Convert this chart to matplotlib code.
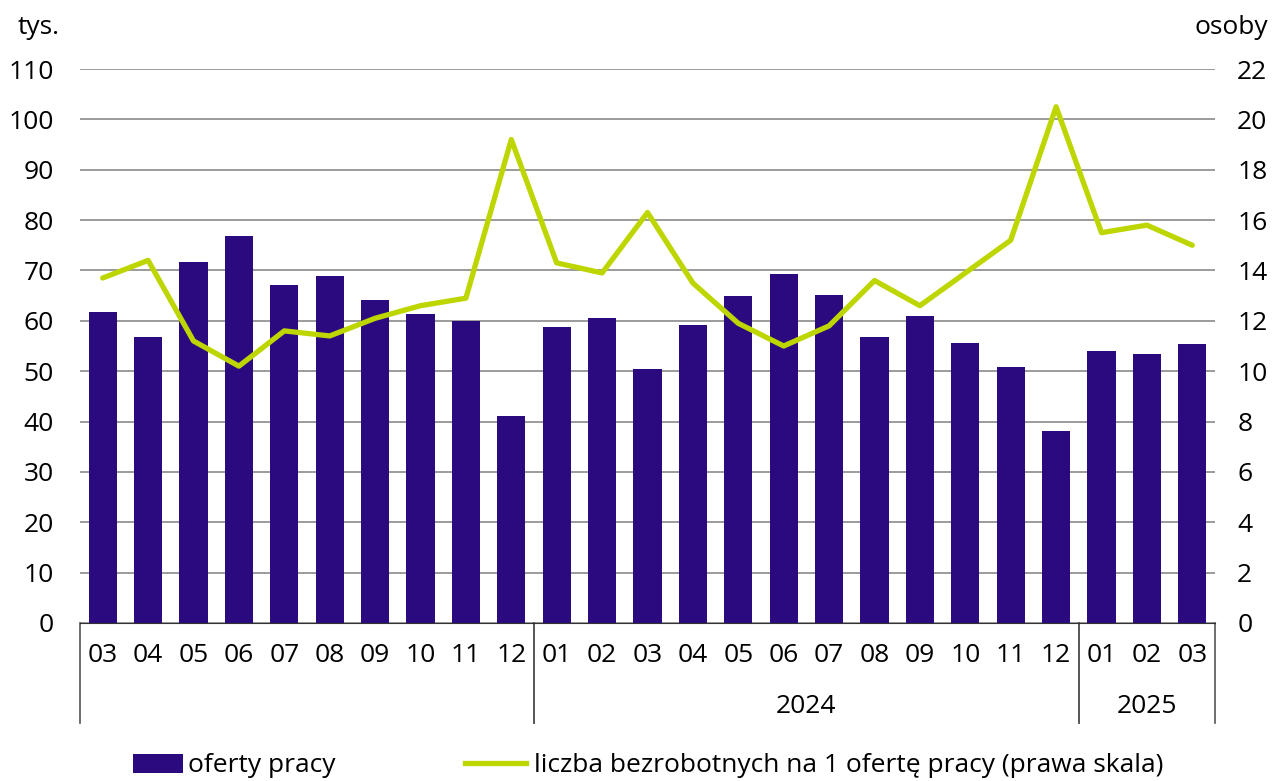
import numpy as np
import matplotlib.pyplot as plt
import matplotlib.transforms as mtransforms
from matplotlib.patches import Patch
from matplotlib.lines import Line2D

plt.rcParams['font.family'] = ['Open Sans', 'DejaVu Sans']

months = ['03', '04', '05', '06', '07', '08', '09', '10', '11', '12',
          '01', '02', '03', '04', '05', '06', '07', '08', '09', '10', '11', '12',
          '01', '02', '03']
oferty = [61.8, 56.8, 71.7, 76.8, 67.1, 68.9, 64.1, 61.4, 60.0, 41.1,
          58.8, 60.6, 50.4, 59.2, 64.9, 69.3, 65.1, 56.8, 61.0, 55.6, 50.8, 38.1,
          54.0, 53.4, 55.4]
bezrobotni = [13.7, 14.4, 11.2, 10.2, 11.6, 11.4, 12.1, 12.6, 12.9, 19.2,
              14.3, 13.9, 16.3, 13.5, 11.9, 11.0, 11.8, 13.6, 12.6, 13.9, 15.2, 20.5,
              15.5, 15.8, 15.0]
# (label, first index, last index)
years = [('', 0, 9), ('2024', 10, 21), ('2025', 22, 24)]

bar_c = '#2B0A80'
line_c = '#BED600'
fs = 19

fig = plt.figure(figsize=(12.72, 7.81), dpi=100)
ax = fig.add_axes([80/1272, 1 - 623/781, 1135/1272, 554/781])
ax2 = ax.twinx()

x = np.arange(len(months))
ax.bar(x, oferty, width=0.62, color=bar_c, zorder=2)
ax2.plot(x, bezrobotni, color=line_c, lw=3.8, solid_capstyle='round', zorder=3)

ax.set_xlim(-0.5, len(months) - 0.5)
ax.set_ylim(0, 110)
ax2.set_ylim(0, 22)
ax.set_yticks(range(0, 111, 10))
ax2.set_yticks(range(0, 23, 2))
ax.yaxis.grid(True, color='#8a8a8a', lw=1.2, zorder=0)
ax.set_axisbelow(True)

for a in (ax, ax2):
    for s in ['left', 'right', 'top']:
        a.spines[s].set_visible(False)
    a.tick_params(length=0, labelsize=fs)
ax.spines['bottom'].set_visible(False)
ax2.spines['bottom'].set_color('#333333')
ax.tick_params(axis='y', pad=19)
ax2.tick_params(axis='y', pad=16)
ax.set_xticks([])

trans = mtransforms.blended_transform_factory(ax.transData, ax.transAxes)
for i, m in enumerate(months):
    ax.text(i, -0.058, m, transform=trans, ha='center', va='center', fontsize=fs)
for lab, a, b in years:
    ax.text((a + b) / 2, -0.15, lab, transform=trans, ha='center', va='center', fontsize=fs)
    for xe in (a - 0.5, b + 0.5):
        ax.plot([xe, xe], [0, -0.18], transform=trans, color='#555555', lw=1.2, clip_on=False)

fig.text(60/1272, 1 - 27/781, 'tys.', ha='right', va='center', fontsize=fs)
fig.text(1268/1272, 1 - 27/781, 'osoby', ha='right', va='center', fontsize=fs)

leg1 = fig.legend([Patch(facecolor=bar_c)], ['oferty pracy'], loc='center left',
                  bbox_to_anchor=(133/1272, 1 - 766/781), frameon=False, fontsize=fs,
                  handlelength=1.9, handletextpad=0.2, borderpad=0, borderaxespad=0)
fig.legend([Line2D([], [], color=line_c, lw=3.8)],
           ['liczba bezrobotnych na 1 ofertę pracy (prawa skala)'], loc='center left',
           bbox_to_anchor=(465/1272, 1 - 766/781), frameon=False, fontsize=fs,
           handlelength=2.3, handletextpad=0.3, borderpad=0, borderaxespad=0)

fig.savefig('out.png', dpi=100)
